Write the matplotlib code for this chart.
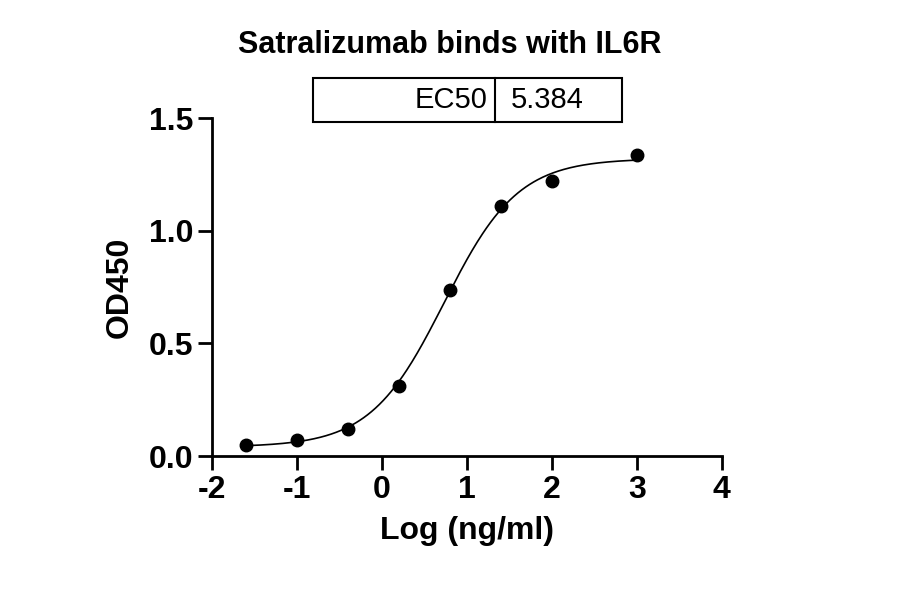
import numpy as np
import matplotlib
matplotlib.use("Agg")
import matplotlib.pyplot as plt

plt.rcParams["font.family"] = ["Liberation Sans", "DejaVu Sans"]
plt.rcParams["axes.unicode_minus"] = False

log_conc = [-1.6, -1.0, -0.4, 0.2, 0.8, 1.4, 2.0, 3.0]
od450 = [0.05, 0.07, 0.12, 0.31, 0.735, 1.11, 1.22, 1.335]

# 4PL fit parameters
bottom, top, ec50, hill = 0.04, 1.32, 5.384, 1.0

fig = plt.figure(figsize=(9, 5.94), dpi=100)
ax = fig.add_axes([0.2356, 0.2323, 0.802 - 0.2356, 0.8013 - 0.2323])

xs = np.linspace(-1.6, 3.0, 300)
ys = bottom + (top - bottom) / (1 + 10 ** ((np.log10(ec50) - xs) * hill))
ax.plot(xs, ys, color="black", lw=1.2)
ax.plot(log_conc, od450, "o", color="black", ms=9)

ax.set_xlim(-2, 4)
ax.set_ylim(0, 1.5)
ax.set_xticks(range(-2, 5))
ax.set_yticks([0, 0.5, 1.0, 1.5])
ax.set_yticklabels(["0.0", "0.5", "1.0", "1.5"])
for s in ["top", "right"]:
    ax.spines[s].set_visible(False)
for s in ["left", "bottom"]:
    ax.spines[s].set_linewidth(2)
ax.tick_params(width=2, length=10, labelsize=23)
for lbl in ax.get_xticklabels() + ax.get_yticklabels():
    lbl.set_fontweight("bold")
ax.set_xlabel("Log (ng/ml)", fontsize=23, fontweight="bold", labelpad=8)
ax.set_ylabel("OD450", fontsize=23, fontweight="bold", labelpad=10)

fig.text(0.5, 0.924, "Satralizumab binds with IL6R", ha="center", va="center",
         fontsize=22, fontweight="bold")

# EC50 table
tx0, tx1, tdiv = 313 / 900, 622 / 900, 495 / 900
ty0, ty1 = 1 - 122 / 594, 1 - 78 / 594
fig.add_artist(plt.Rectangle((tx0, ty0), tx1 - tx0, ty1 - ty0, transform=fig.transFigure,
                             fill=False, lw=1.5, color="black"))
fig.add_artist(plt.Line2D([tdiv, tdiv], [ty0, ty1], transform=fig.transFigure,
                          lw=1.5, color="black"))
fig.text(tdiv - 0.008, (ty0 + ty1) / 2, "EC50", ha="right", va="center", fontsize=21)
fig.text(tdiv + 0.018, (ty0 + ty1) / 2, "5.384", ha="left", va="center", fontsize=21)

fig.savefig("out.png", dpi=100)
